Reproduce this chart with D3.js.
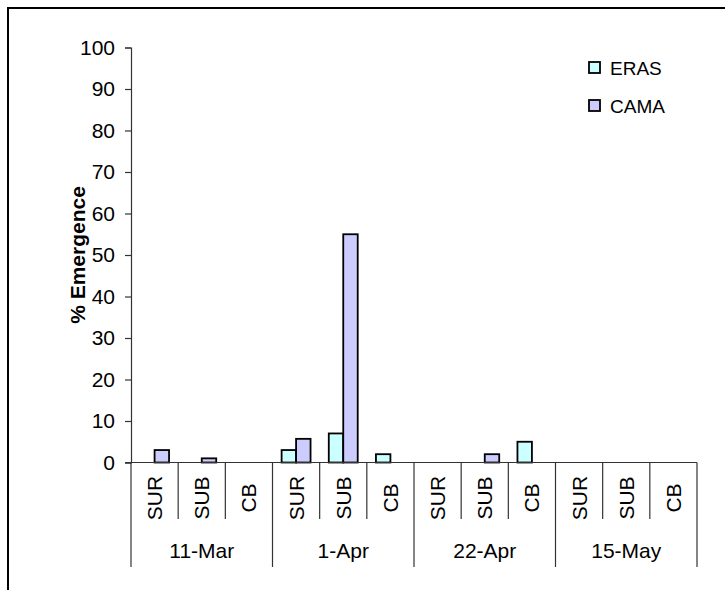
<!DOCTYPE html>
<html>
<head>
<meta charset="utf-8">
<script src="https://cdn.jsdelivr.net/npm/d3@7"></script>
<style>
  body { margin: 0; background: #fff; }
  svg text { font-family: "Liberation Sans", Arial, sans-serif; fill: #000; }
</style>
</head>
<body>
<div id="chart"></div>
<script>
// data
var groups = ["11-Mar", "1-Apr", "22-Apr", "15-May"];
var cats = ["SUR", "SUB", "CB"];
var series = ["ERAS", "CAMA"];
var eras = [0, 0, 0, 3, 7, 2, 0, 0, 5, 0, 0, 0];
var cama = [3, 1, 0, 5.7, 55, 0, 0, 2, 0, 0, 0, 0];
var yTicks = [0, 10, 20, 30, 40, 50, 60, 70, 80, 90, 100];
var colors = { "ERAS": "#ccffff", "CAMA": "#ccccff" };

var width = 725, height = 590;
var plotL = 131, plotR = 697, plotT = 47.5, plotB = 462.5;

var svg = d3.select("#chart").append("svg")
    .attr("width", width)
    .attr("height", height);

// outer frame (runs off the right and bottom edge)
svg.append("rect")
    .attr("x", 8).attr("y", 8)
    .attr("width", 740).attr("height", 620)
    .attr("fill", "none")
    .attr("stroke", "#000")
    .attr("stroke-width", 2);

// one slot per group/category pair
var slots = [];
groups.forEach(function (g, i) {
    cats.forEach(function (c, j) {
        slots.push({ key: g + "|" + c, group: g, cat: c, idx: i * 3 + j });
    });
});

var x = d3.scaleBand()
    .domain(slots.map(function (d) { return d.key; }))
    .range([plotL, plotR]);
var xs = d3.scaleBand()
    .domain(series)
    .range([0, x.bandwidth()])
    .paddingOuter(0.63);
var y = d3.scaleLinear().domain([0, 100]).range([plotB, plotT]);

// y axis
var yAxis = d3.axisLeft(y).tickValues(yTicks).tickSize(6).tickPadding(10);
var ya = svg.append("g")
    .attr("transform", "translate(" + plotL + ",0)")
    .call(yAxis);
ya.select(".domain").attr("stroke", "#333").attr("stroke-width", 1.2);
ya.selectAll(".tick line").attr("stroke", "#333").attr("stroke-width", 1.2);
ya.selectAll("text")
    .style("font-size", "21px")
    .attr("fill", "#000");

svg.append("text")
    .attr("transform", "translate(77," + ((plotT + plotB) / 2) + ") rotate(-90)")
    .attr("text-anchor", "middle")
    .attr("dominant-baseline", "central")
    .style("font-size", "21px")
    .style("font-weight", "bold")
    .text("% Emergence");

// bars
var barData = [];
slots.forEach(function (s) {
    barData.push({ slot: s.key, name: "ERAS", v: eras[s.idx] });
    barData.push({ slot: s.key, name: "CAMA", v: cama[s.idx] });
});

svg.append("g").selectAll("rect")
    .data(barData.filter(function (d) { return d.v > 0; }))
    .enter().append("rect")
    .attr("x", function (d) { return x(d.slot) + xs(d.name); })
    .attr("y", function (d) { return y(d.v); })
    .attr("width", xs.bandwidth())
    .attr("height", function (d) { return y(0) - y(d.v); })
    .attr("fill", function (d) { return colors[d.name]; })
    .attr("stroke", "#000")
    .attr("stroke-width", 1.8);

// x axis line and the two levels of category dividers
var xa = svg.append("g").attr("stroke", "#333").attr("stroke-width", 1.2);
xa.append("line")
    .attr("x1", plotL - 6).attr("x2", plotR)
    .attr("y1", y(0)).attr("y2", y(0));

var edges = slots.map(function (s) { return x(s.key); }).concat([plotR]);
edges.forEach(function (ex, i) {
    var isGroup = (i % 3 == 0);
    xa.append("line")
        .attr("x1", ex).attr("x2", ex)
        .attr("y1", y(0))
        .attr("y2", isGroup ? 567 : 519);
});

svg.append("g").selectAll("text")
    .data(slots)
    .enter().append("text")
    .attr("transform", function (d) {
        return "translate(" + (x(d.key) + x.bandwidth() / 2) + ",498) rotate(-90)";
    })
    .attr("text-anchor", "middle")
    .attr("dominant-baseline", "central")
    .style("font-size", "21px")
    .text(function (d) { return d.cat; });

svg.append("g").selectAll("text")
    .data(groups)
    .enter().append("text")
    .attr("x", function (g) { return (x(g + "|SUR") + x(g + "|CB") + x.bandwidth()) / 2; })
    .attr("y", 550)
    .attr("text-anchor", "middle")
    .attr("dominant-baseline", "central")
    .style("font-size", "21px")
    .text(function (g) { return g; });

// legend
var legend = svg.append("g").selectAll("g")
    .data(series)
    .enter().append("g")
    .attr("transform", function (d, i) { return "translate(589," + (62 + i * 38) + ")"; });
legend.append("rect")
    .attr("width", 11).attr("height", 11)
    .attr("fill", function (d) { return colors[d]; })
    .attr("stroke", "#000")
    .attr("stroke-width", 1.8);
legend.append("text")
    .attr("x", 21).attr("y", 6)
    .attr("dominant-baseline", "central")
    .style("font-size", "19px")
    .text(function (d) { return d; });
</script>
</body>
</html>
